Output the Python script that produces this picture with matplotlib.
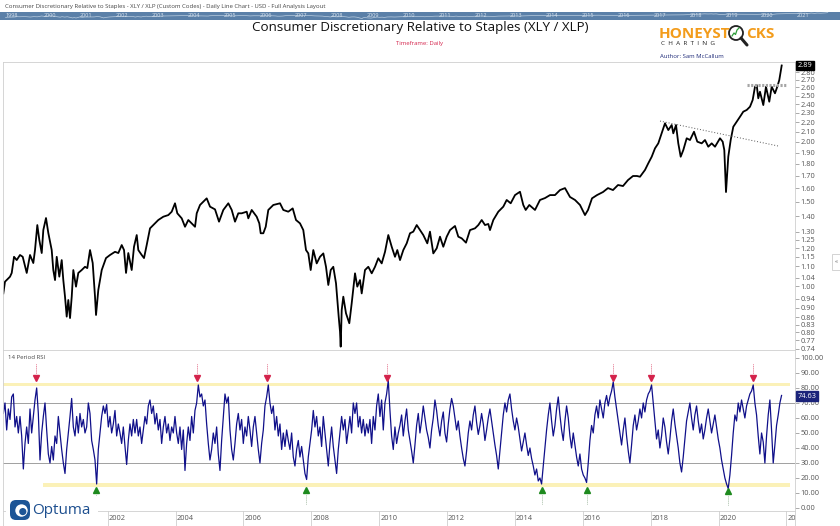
import numpy as np
import matplotlib
matplotlib.use("Agg")
import matplotlib.pyplot as plt
import matplotlib.transforms as mtransforms
from matplotlib.patches import Rectangle, Circle, FancyBboxPatch
from matplotlib.ticker import NullLocator

plt.rcParams['font.family'] = ['Open Sans', 'DejaVu Sans']

W, H = 840, 526

# XLY / XLP ratio (decimal year, ratio)
ratio_years = [
    1998.924, 1998.974, 1999.122, 1999.172, 1999.240, 1999.319, 1999.416, 1999.496, 1999.614, 1999.711,
    1999.808, 1999.858, 1999.926, 1999.985, 2000.056, 2000.103, 2000.182, 2000.250, 2000.350, 2000.397,
    2000.448, 2000.498, 2000.574, 2000.645, 2000.692, 2000.742, 2000.792, 2000.839, 2000.890, 2000.940,
    2000.987, 2001.066, 2001.134, 2001.234, 2001.331, 2001.399, 2001.479, 2001.558, 2001.626, 2001.656,
    2001.723, 2001.824, 2001.950, 2002.068, 2002.215, 2002.313, 2002.413, 2002.481, 2002.540, 2002.607,
    2002.707, 2002.775, 2002.855, 2002.902, 2003.002, 2003.070, 2003.149, 2003.247, 2003.344, 2003.491,
    2003.639, 2003.786, 2003.886, 2003.983, 2004.051, 2004.181, 2004.278, 2004.375, 2004.475, 2004.573,
    2004.623, 2004.720, 2004.817, 2004.917, 2005.015, 2005.162, 2005.280, 2005.406, 2005.554, 2005.654,
    2005.751, 2005.848, 2005.949, 2006.096, 2006.143, 2006.243, 2006.390, 2006.467, 2006.508, 2006.585,
    2006.656, 2006.732, 2006.880, 2007.077, 2007.174, 2007.321, 2007.451, 2007.548, 2007.666, 2007.763,
    2007.843, 2007.911, 2007.981, 2008.058, 2008.158, 2008.255, 2008.353, 2008.432, 2008.500, 2008.571,
    2008.647, 2008.727, 2008.765, 2008.806, 2008.845, 2008.865, 2008.895, 2008.942, 2009.021, 2009.119,
    2009.189, 2009.287, 2009.354, 2009.434, 2009.484, 2009.581, 2009.679, 2009.779, 2009.876, 2009.973,
    2010.073, 2010.171, 2010.268, 2010.368, 2010.465, 2010.533, 2010.613, 2010.710, 2010.810, 2010.907,
    2011.004, 2011.105, 2011.202, 2011.299, 2011.417, 2011.496, 2011.594, 2011.694, 2011.791, 2011.888,
    2011.989, 2012.086, 2012.233, 2012.330, 2012.430, 2012.557, 2012.675, 2012.822, 2012.920, 2013.020,
    2013.117, 2013.214, 2013.264, 2013.362, 2013.509, 2013.656, 2013.756, 2013.874, 2014.001, 2014.148,
    2014.245, 2014.316, 2014.422, 2014.590, 2014.737, 2014.885, 2015.032, 2015.179, 2015.327, 2015.474,
    2015.621, 2015.769, 2015.916, 2016.063, 2016.152, 2016.270, 2016.417, 2016.594, 2016.741, 2016.888,
    2017.036, 2017.183, 2017.330, 2017.478, 2017.595, 2017.684, 2017.831, 2017.928, 2018.029, 2018.126,
    2018.223, 2018.323, 2018.420, 2018.518, 2018.618, 2018.665, 2018.745, 2018.812, 2018.883, 2018.960,
    2019.060, 2019.157, 2019.275, 2019.372, 2019.502, 2019.599, 2019.696, 2019.796, 2019.894, 2020.041,
    2020.120, 2020.168, 2020.218, 2020.285, 2020.356, 2020.433, 2020.533, 2020.630, 2020.727, 2020.828,
    2020.925, 2021.004, 2021.072, 2021.122, 2021.169, 2021.219, 2021.317, 2021.396, 2021.493, 2021.564,
    2021.661, 2021.729, 2021.788, 2021.829, 2021.859,
]
ratio_values = [
    0.965, 1.021, 1.046, 1.065, 1.151, 1.133, 1.161, 1.151, 1.065, 1.161,
    1.117, 1.189, 1.341, 1.248, 1.172, 1.309, 1.387, 1.291, 1.189, 1.080,
    1.029, 1.151, 1.046, 1.133, 1.029, 0.950, 0.863, 0.935, 0.857, 0.950,
    1.080, 0.997, 1.065, 1.080, 1.097, 1.090, 1.189, 1.117, 0.950, 0.870,
    0.981, 1.080, 1.144, 1.161, 1.179, 1.172, 1.218, 1.189, 1.065, 1.172,
    1.080, 1.208, 1.278, 1.189, 1.161, 1.144, 1.218, 1.320, 1.341, 1.374,
    1.396, 1.407, 1.430, 1.489, 1.419, 1.385, 1.330, 1.374, 1.352, 1.330,
    1.419, 1.477, 1.500, 1.525, 1.465, 1.446, 1.363, 1.442, 1.489, 1.442,
    1.363, 1.419, 1.419, 1.430, 1.385, 1.442, 1.396, 1.352, 1.289, 1.289,
    1.330, 1.442, 1.477, 1.489, 1.442, 1.430, 1.453, 1.374, 1.352, 1.309,
    1.189, 1.170, 1.080, 1.189, 1.115, 1.151, 1.170, 1.097, 1.005, 1.080,
    1.097, 1.013, 0.935, 0.863, 0.803, 0.747, 0.891, 0.950, 0.877, 0.836,
    0.920, 1.063, 0.997, 1.029, 0.965, 1.080, 1.097, 1.063, 1.097, 1.143,
    1.115, 1.179, 1.278, 1.208, 1.151, 1.189, 1.133, 1.189, 1.228, 1.289,
    1.299, 1.341, 1.309, 1.278, 1.228, 1.299, 1.170, 1.199, 1.268, 1.208,
    1.268, 1.309, 1.335, 1.268, 1.258, 1.232, 1.309, 1.320, 1.341, 1.374,
    1.341, 1.348, 1.309, 1.374, 1.430, 1.465, 1.513, 1.489, 1.549, 1.574,
    1.477, 1.442, 1.477, 1.442, 1.513, 1.527, 1.549, 1.549, 1.587, 1.602,
    1.535, 1.513, 1.477, 1.407, 1.442, 1.525, 1.549, 1.572, 1.602, 1.587,
    1.626, 1.618, 1.665, 1.698, 1.698, 1.692, 1.748, 1.805, 1.863, 1.940,
    1.987, 2.085, 2.188, 2.118, 2.170, 2.085, 2.170, 1.987, 1.863, 1.924,
    2.036, 2.019, 2.101, 2.003, 1.987, 2.019, 1.955, 1.987, 1.955, 2.036,
    2.003, 1.924, 1.572, 1.863, 2.019, 2.152, 2.205, 2.258, 2.314, 2.333,
    2.370, 2.448, 2.609, 2.631, 2.468, 2.547, 2.389, 2.609, 2.428, 2.609,
    2.528, 2.609, 2.695, 2.805, 2.890,
]

# 14 period RSI, one reading every 0.0491 year
rsi_start = 1998.925
rsi_step = 0.0491
rsi_values = [
    63, 70, 52, 66, 59, 74, 76, 54, 61, 50, 61, 48, 26, 43, 54, 43, 66, 50, 61, 72,
    80, 63, 32, 50, 61, 70, 52, 36, 30, 41, 32, 48, 43, 61, 50, 39, 30, 23, 39, 50,
    61, 73, 54, 48, 61, 50, 63, 54, 59, 50, 54, 70, 63, 45, 39, 32, 16, 39, 50, 61,
    68, 63, 69, 54, 61, 50, 56, 65, 48, 56, 50, 43, 54, 41, 29, 45, 56, 48, 59, 50,
    59, 48, 54, 43, 52, 61, 56, 68, 72, 63, 68, 56, 63, 52, 59, 43, 54, 61, 50, 56,
    45, 54, 50, 61, 50, 43, 54, 39, 52, 25, 43, 54, 45, 61, 50, 65, 70, 82, 74, 76,
    68, 72, 56, 43, 32, 39, 50, 43, 54, 36, 25, 45, 61, 76, 70, 74, 52, 39, 32, 43,
    56, 63, 52, 59, 43, 54, 48, 61, 52, 41, 54, 61, 50, 39, 30, 43, 52, 68, 74, 82,
    70, 63, 68, 52, 61, 48, 56, 39, 50, 41, 52, 45, 39, 50, 34, 28, 39, 45, 34, 41,
    32, 23, 19, 34, 43, 52, 65, 54, 61, 48, 54, 41, 61, 50, 39, 28, 43, 54, 41, 32,
    23, 39, 50, 61, 52, 59, 43, 52, 61, 50, 70, 63, 70, 54, 61, 50, 59, 48, 56, 50,
    59, 43, 61, 52, 68, 76, 61, 72, 52, 70, 76, 85, 65, 48, 39, 54, 43, 50,
    # late 2010 onwards
    55, 62, 48, 58, 66, 52, 45, 38, 30, 42, 55, 63, 50, 58, 68, 60, 52, 47,
    40, 52, 60, 72, 65, 55, 48, 58, 64, 50, 44, 56, 66, 73, 68, 60, 52, 58,
    48, 40, 33, 28, 38, 50, 58, 52, 62, 68, 57, 49, 55, 63, 56, 45, 52, 60,
    66, 58, 50, 42, 35, 26, 38, 50, 62, 70, 64, 72, 76, 66, 58, 52, 60, 54,
    46, 38, 44, 50, 42, 35, 40, 33, 28, 22, 26, 18, 20, 16,
    28, 40, 52, 62, 70, 58, 48, 55, 66, 74, 62, 52, 45, 58, 68, 60, 48, 40, 50, 42,
    34, 28, 36, 26, 22, 20, 17,
    30, 45, 55, 50, 62, 68, 60, 72, 66, 60, 70, 75, 68, 74, 78, 84,
    74, 66, 58, 50, 42, 52, 60, 48, 38, 30, 42, 55, 62, 52, 58, 66, 60, 70, 64, 72,
    76, 78, 82,
    70, 58, 46, 52, 40, 48, 60, 54, 44, 36, 46, 58, 66, 56, 48, 40, 30, 24, 34, 46,
    58, 64, 70, 60, 52, 62, 68, 58, 50, 56, 46, 52, 60, 66, 58, 50, 56, 62, 54, 46,
    40, 32, 26, 20, 16, 13,
    22, 35, 50, 62, 58, 70, 64, 72, 66, 60, 68, 72, 76, 78,
    82, 70, 62, 48, 36, 50, 44, 30, 48, 62, 72, 52, 30, 42, 55, 62, 70, 75,
]

sell_signals = [1999.888, 2004.631, 2006.703, 2010.238, 2016.888, 2018.008, 2021.022]
buy_signals = [2001.656, 2007.840, 2014.806, 2016.111, 2020.270]

price_ticks = [2.80, 2.70, 2.60, 2.50, 2.40, 2.30, 2.20, 2.10, 2.00, 1.90, 1.80, 1.70, 1.60,
               1.50, 1.40, 1.30, 1.25, 1.20, 1.15, 1.10, 1.04, 1.00, 0.94, 0.90, 0.86, 0.83,
               0.80, 0.77, 0.74]
rsi_ticks = [100, 90, 80, 70, 60, 50, 40, 30, 20, 10, 0]
date_ticks = [2002, 2004, 2006, 2008, 2010, 2012, 2014, 2016, 2018, 2020, 2022]
overview_years = list(range(2000, 2022))

# trend line and resistance drawn on the chart
trend_years = [2018.274, 2021.750]
trend_values = [2.212, 1.962]
resist_years = [2020.828, 2022.015]
resist_value = 2.63

last_price = "2.89"
last_rsi = 74.63


def fx(px):
    return px / W


def fy(py):
    return 1 - py / H


def box(l, t, r, b):
    return [fx(l), fy(b), fx(r) - fx(l), fy(t) - fy(b)]


XMIN = 1998.915
XMAX = 2022.251
GREY = "#cfcfcf"

fig = plt.figure(figsize=(W / 100, H / 100), dpi=100)

# header
fig.text(fx(5), fy(6.5), "Consumer Discretionary Relative to Staples - XLY / XLP (Custom Codes) - "
         "Daily Line Chart - USD - Full Analysis Layout", fontsize=4.3, color="#444", va="center")

# overview bar
ax_ov = fig.add_axes(box(0, 12, 840, 19.5))
ax_ov.set_facecolor("#5b80a8")
ax_ov.plot(ratio_years, np.log(ratio_values), color="#b9cde0", lw=0.5)
ax_ov.set_xlim(2001 - 80 / 35.85, 2001 + 760 / 35.85)
ax_ov.set_ylim(-0.5, 1.2)
for s in ax_ov.spines.values():
    s.set_visible(False)
ax_ov.set_xticks([])
ax_ov.set_yticks([])
tr_ov = mtransforms.blended_transform_factory(ax_ov.transData, ax_ov.transAxes)
for yr in overview_years:
    ax_ov.text(yr, 0.5, str(yr), transform=tr_ov, fontsize=4, color="#dbe5ef", va="center", ha="left")
ax_ov.text(1998.93, 0.5, "1998", transform=tr_ov, fontsize=4, color="#dbe5ef", va="center", ha="left")

# title block
fig.text(fx(420), fy(28), "Consumer Discretionary Relative to Staples (XLY / XLP)",
         fontsize=9.6, color="#111", ha="center", va="center")
fig.text(fx(420), fy(43.5), "Timeframe: Daily", fontsize=4.3, color="#d4234b", ha="center", va="center")

# honeystocks logo
fig.text(fx(659), fy(34), "HONEYST", fontsize=11, color="#f39c1b", fontweight="bold", va="center")
fig.text(fx(746), fy(34), "CKS", fontsize=11, color="#f39c1b", fontweight="bold", va="center")
fig.text(fx(661), fy(43.5), "C  H  A  R  T  I  N  G", fontsize=4.6, color="#222", va="center")
fig.text(fx(660), fy(57), "Author: Sam McCallum", fontsize=4.3, color="#1e2a78", va="center")
ax_logo = fig.add_axes(box(722, 22, 760, 50))
ax_logo.set_xlim(0, 38)
ax_logo.set_ylim(28, 0)
ax_logo.axis("off")
ax_logo.add_patch(Circle((14, 11), 7, fill=False, ec="#222", lw=1.3))
ax_logo.plot([19, 25], [16, 23], color="#222", lw=2.2, solid_capstyle="round")
ax_logo.plot([10, 12, 13.5, 15, 17], [14, 11, 12.5, 8, 6], color="#2e9e3a", lw=0.9)

# main price panel
ax = fig.add_axes(box(3, 62, 795, 350))
ax.plot(ratio_years, ratio_values, color="black", lw=1.3)
ax.plot(trend_years, trend_values, color="#555", lw=0.7, ls=(0, (1, 2)))
ax.plot(resist_years, [resist_value, resist_value], color="#a5a5a5", lw=2.2, ls=(0, (0.7, 0.5)))
ax.set_yscale("log")
ax.set_ylim(0.735, 2.939)
ax.set_xlim(XMIN, XMAX)
ax.yaxis.tick_right()
ax.yaxis.set_minor_locator(NullLocator())
ax.set_yticks(price_ticks)
ax.set_yticklabels(["%.2f" % t for t in price_ticks])
ax.tick_params(axis="y", length=3, width=0.5, color="#888", labelsize=5.3, labelcolor="#555", pad=1)
ax.set_xticks([])
for name, s in ax.spines.items():
    s.set_color(GREY)
    s.set_linewidth(0.6)
ax.spines["bottom"].set_visible(False)
tr = mtransforms.blended_transform_factory(ax.transAxes, ax.transData)
ax.text(1.0035, ratio_values[-1], last_price, transform=tr, fontsize=5.3, color="white", va="center",
        ha="left", bbox=dict(boxstyle="square,pad=0.2", fc="black", ec="black"))

# RSI panel
rsi_x = rsi_start + rsi_step * np.arange(len(rsi_values))
ax2 = fig.add_axes(box(3, 350, 795, 511))
ax2.set_xlim(XMIN, XMAX)
ax2.set_ylim(-2, 105.3)
ax2.axhspan(81, 83.3, xmin=0, xmax=(790 - 3) / 792, color="#fbf1b8", lw=0)
ax2.axhspan(14.3, 16.7, xmin=(43 - 3) / 792, xmax=(790 - 3) / 792, color="#fbf1b8", lw=0)
ax2.axhline(70, color="#a0a0a0", lw=0.7)
ax2.axhline(30, color="#a0a0a0", lw=0.7)
ax2.plot(rsi_x, rsi_values, color="#10108a", lw=0.9)
for d in sell_signals:
    lvl = max(np.interp(d, rsi_x, rsi_values), 83.3) + 3.5
    ax2.plot([d, d], [lvl + 3, lvl + 9], color="#d4234b", lw=0.6, ls=(0, (1, 1.5)))
    ax2.plot(d, lvl, marker="v", ms=5, color="#d4234b", mec="#d4234b")
for d in buy_signals:
    lvl = min(np.interp(d, rsi_x, rsi_values), 14.3) - 2.5
    ax2.plot([d, d], [lvl - 3, lvl - 9], color="#7f9f7f", lw=0.6, ls=(0, (1, 1.5)))
    ax2.plot(d, lvl, marker="^", ms=5, color="#1e8a1e", mec="#1e8a1e")
ax2.yaxis.tick_right()
ax2.set_yticks(rsi_ticks)
ax2.set_yticklabels(["%.2f" % t for t in rsi_ticks])
ax2.tick_params(axis="y", length=3, width=0.5, color="#888", labelsize=5.3, labelcolor="#555", pad=1)
ax2.set_xticks([])
for name, s in ax2.spines.items():
    s.set_color(GREY)
    s.set_linewidth(0.6)
ax2.text(0.006, 0.955, "14 Period RSI", transform=ax2.transAxes, fontsize=4.3, color="#444", va="center")
tr2 = mtransforms.blended_transform_factory(ax2.transAxes, ax2.transData)
ax2.text(1.0035, last_rsi, "%.2f" % last_rsi, transform=tr2, fontsize=5.3, color="white", va="center",
         ha="left", bbox=dict(boxstyle="square,pad=0.2", fc="#1b237a", ec="#1b237a"))

# date strip
ax3 = fig.add_axes(box(3, 511, 795, 526))
ax3.set_xlim(XMIN, XMAX)
ax3.set_ylim(0, 1)
ax3.set_yticks([])
ax3.set_xticks([])
for s in ax3.spines.values():
    s.set_color(GREY)
    s.set_linewidth(0.6)
ax3.spines["bottom"].set_visible(False)
for yr in date_ticks:
    ax3.axvline(yr, color=GREY, lw=0.6)
    ax3.text(yr + 0.03, 0.5, str(yr), fontsize=5.3, color="#555", va="center", ha="left", clip_on=True)

# small collapse button on the right
fig.patches.append(Rectangle((fx(832), fy(270)), fx(8), fy(254) - fy(270), transform=fig.transFigure,
                             fc="white", ec="#cccccc", lw=0.6))
fig.text(fx(836), fy(262), "«", fontsize=4.5, color="#666", ha="center", va="center")

# optuma logo
fig.patches.append(Rectangle((fx(6), fy(526)), fx(92), fy(496) - fy(526), transform=fig.transFigure,
                             fc="white", ec="none", zorder=5))
ax_op = fig.add_axes(box(9, 498, 31, 522), zorder=6)
ax_op.set_xlim(0, 22)
ax_op.set_ylim(24, 0)
ax_op.axis("off")
ax_op.add_patch(FancyBboxPatch((1, 2), 20, 20, boxstyle="round,pad=0,rounding_size=6", fc="#1d5596", ec="none"))
ax_op.add_patch(Circle((12.5, 12.5), 6.2, fc="white", ec="none"))
ax_op.add_patch(Circle((13.8, 13.6), 3.6, fc="#1d5596", ec="none"))
fig.text(fx(32), fy(510), "Optuma", fontsize=11, color="#1d4f8f", va="center", zorder=7)

fig.savefig("out.png", dpi=100)
